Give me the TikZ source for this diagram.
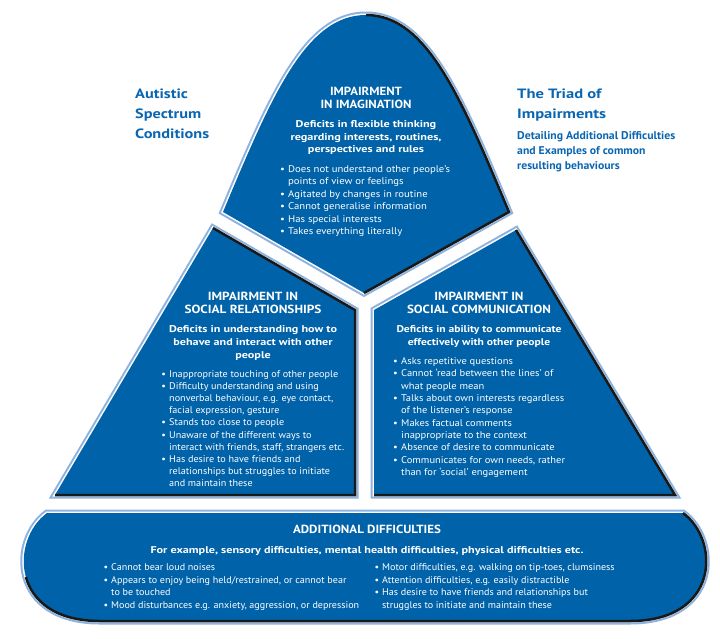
\documentclass[tikz,border=0pt]{standalone}
\usepackage{fontspec}
\usepackage{graphicx}
\setmainfont{PT Sans}
\definecolor{fb}{HTML}{0062A9}
\definecolor{lb}{HTML}{8DB2DE}
\definecolor{tb}{HTML}{0A66B2}
\newcommand\bu{\llap{\textbullet\hspace{3pt}}}
\newlength\wtmp
\newcommand\mkscale[4]{\settowidth\wtmp{#2#3}\pgfmathsetmacro#1{#4/\wtmp}}
\newcommand\mylines[7]{\foreach \tx [count=\i from 0] in {#6} {\node[#2] (#1\i) at (#3,#4+\i*#5) {\scalebox{#7}[1]{\tx}};}}
\newcommand\fHd{\bfseries\fontsize{11.8}{13}\selectfont}
\newcommand\fSub{\bfseries\fontsize{9.8}{12}\selectfont}
\newcommand\fItm{\fontsize{9.7}{12}\selectfont}
\newcommand\fTtl{\bfseries\fontsize{13.5}{16}\selectfont}
\newcommand\fTts{\bfseries\fontsize{11.2}{13}\selectfont}
\AtBeginDocument{%
\mkscale\sTH\fHd{IN IMAGINATION}{91}%
\mkscale\sLH\fHd{SOCIAL RELATIONSHIPS}{137}%
\mkscale\sRH\fHd{SOCIAL COMMUNICATION}{144}%
\mkscale\sBH\fHd{ADDITIONAL DIFFICULTIES}{148}%
\mkscale\sTS\fSub{regarding interests, routines,}{151}%
\mkscale\sLS\fSub{Deficits in understanding how to}{168}%
\mkscale\sRS\fSub{Deficits in ability to communicate}{165}%
\mkscale\sBS\fSub{For example, sensory difficulties, mental health difficulties, physical difficulties etc.}{433}%
\mkscale\sTI\fItm{Does not understand other people’s}{162}%
\mkscale\sLI\fItm{interact with friends, staff, strangers etc.}{175}%
\mkscale\sRI\fItm{Talks about own interests regardless}{163}%
\mkscale\sBI\fItm{Mood disturbances e.g. anxiety, aggression, or depression}{248}%
\mkscale\sAT\fTtl{Conditions}{74}%
\mkscale\sTT\fTtl{Impairments}{89}%
\mkscale\sDT\fTts{Detailing Additional Difficulties}{158}%
}
\tikzset{
  ring/.style={draw=lb, line width=7pt, line join=miter},
  gap/.style={draw=white, line width=3pt, line join=miter},
  body/.style={fill=fb},
  shade/.style={draw=black!90, line width=2.5pt, line join=miter},
  hd/.style={anchor=base, inner sep=0, text=white, font=\fHd},
  sub/.style={anchor=base, inner sep=0, text=white, font=\fSub},
  itm/.style={anchor=base west, inner sep=0, text=white, font=\fItm},
  ttl/.style={anchor=base west, inner sep=0, text=tb, font=\fTtl},
  ttls/.style={anchor=base west, inner sep=0, text=tb, font=\fTts},
}
\def\topS{(223,212) .. controls (272,95) and (306,15) .. (366,15) .. controls (426,15) and (460,95) .. (509,212) -- (364,293) -- cycle}
\def\leftS{(213,228) -- (355,310) -- (355,495) -- (55,495) -- cycle}
\def\rightS{(516,230) -- (675,495) -- (374,495) -- (374,310) -- cycle}
\def\botS{(47,513) -- (683,513) .. controls (720,540) and (720,621) .. (630,621) -- (100,621) .. controls (10,621) and (10,540) .. (47,513) -- cycle}
\begin{document}
\begin{tikzpicture}[x=1pt,y=-1pt]
\useasboundingbox[fill=white] (0,0) rectangle (720,638);
% shapes
\foreach \s in {\topS,\leftS,\rightS,\botS} {
  \draw[ring] \s;
  \draw[gap] \s;
  \fill[body] \s;
}
\draw[shade] (366,15) .. controls (426,15) and (460,95) .. (509,212) -- (364,293);
\draw[shade] (213,228) -- (355,310) -- (355,495) -- (55,495);
\draw[shade] (516,230) -- (675,495) -- (374,495);
\draw[shade] (683,513) .. controls (720,540) and (720,621) .. (630,621) -- (100,621) .. controls (55,621) and (32.5,600.75) .. (25.9,577.1);
% titles
\mylines{asc}{ttl}{135}{98}{20}{Autistic,Spectrum,Conditions}{\sAT}
\mylines{tri}{ttl}{517}{98}{20}{The Triad of,Impairments}{\sTT}
\mylines{det}{ttls}{517}{139}{15}{Detailing Additional Difficulties,and Examples of common,resulting behaviours}{\sDT}
% top
\mylines{th}{hd}{366}{95}{13}{IMPAIRMENT,IN IMAGINATION}{\sTH}
\mylines{ts}{sub}{366}{127.5}{12.7}{Deficits in flexible thinking,{regarding interests, routines,},perspectives and rules}{\sTS}
\mylines{tb}{itm}{288}{172.5}{12.4}{\bu Does not understand other people’s,points of view or feelings,\bu Agitated by changes in routine,\bu Cannot generalise information,\bu Has special interests,\bu Takes everything literally}{\sTI}
% left
\mylines{lh}{hd}{253}{300}{13}{IMPAIRMENT IN,SOCIAL RELATIONSHIPS}{\sLH}
\mylines{ls}{sub}{253}{332.5}{12.9}{Deficits in understanding how to,behave and interact with other,people}{\sLS}
\mylines{lb}{itm}{169}{377.5}{12.1}{\bu Inappropriate touching of other people,\bu Difficulty understanding and using,{nonverbal behaviour, e.g. eye contact,},{facial expression, gesture},\bu Stands too close to people,\bu Unaware of the different ways to,{interact with friends, staff, strangers etc.},\bu Has desire to have friends and,relationships but struggles to initiate,and maintain these}{\sLI}
% right
\mylines{rh}{hd}{479}{300}{13}{IMPAIRMENT IN,SOCIAL COMMUNICATION}{\sRH}
\mylines{rs}{sub}{479}{332.5}{12.9}{Deficits in ability to communicate,effectively with other people}{\sRS}
\mylines{rb}{itm}{401}{364.5}{12.33}{\bu Asks repetitive questions,\bu Cannot ‘read between the lines’ of,what people mean,\bu Talks about own interests regardless,of the listener’s response,\bu Makes factual comments,inappropriate to the context,\bu Absence of desire to communicate,{\bu Communicates for own needs, rather},than for ‘social’ engagement}{\sRI}
% bottom
\node[hd] (bh) at (367,533) {\scalebox{\sBH}[1]{ADDITIONAL DIFFICULTIES}};
\node[sub] (bs) at (367,553.5) {\scalebox{\sBS}[1]{For example, sensory difficulties, mental health difficulties, physical difficulties etc.}};
\mylines{bl}{itm}{111}{570.5}{12.67}{\bu Cannot bear loud noises,{\bu Appears to enjoy being held/restrained, or cannot bear},to be touched,{\bu Mood disturbances e.g. anxiety, aggression, or depression}}{\sBI}
\mylines{br}{itm}{382}{570.5}{12.67}{{\bu Motor difficulties, e.g. walking on tip-toes, clumsiness},{\bu Attention difficulties, e.g. easily distractible},\bu Has desire to have friends and relationships but,struggles to initiate and maintain these}{\sBI}
\end{tikzpicture}
\end{document}
